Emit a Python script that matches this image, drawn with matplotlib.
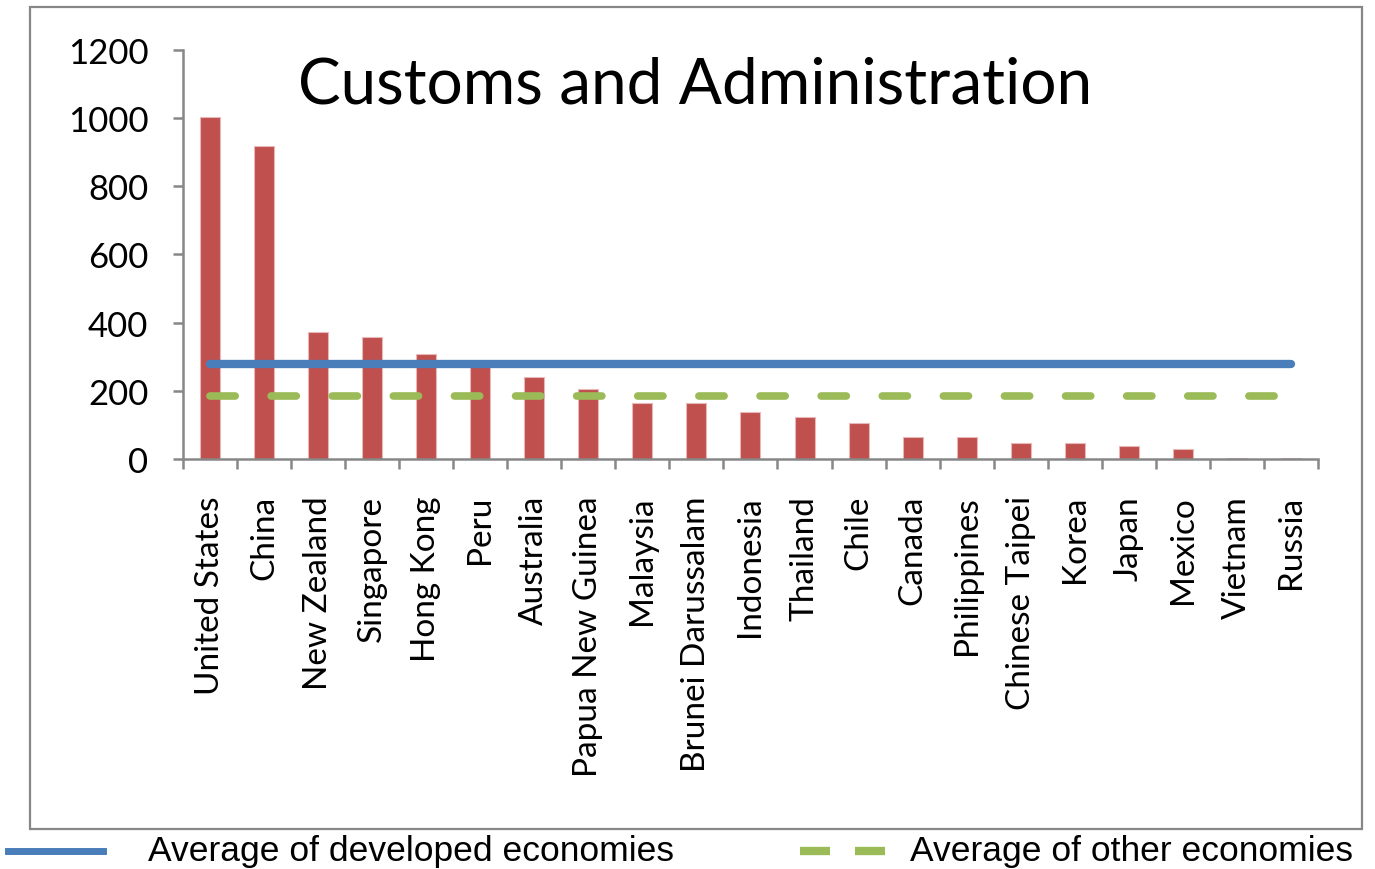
import matplotlib.pyplot as plt
import matplotlib.patches as patches
from matplotlib.lines import Line2D
import numpy as np

# data
economies = ["United States", "China", "New Zealand", "Singapore", "Hong Kong",
             "Peru", "Australia", "Papua New Guinea", "Malaysia",
             "Brunei Darussalam", "Indonesia", "Thailand", "Chile", "Canada",
             "Philippines", "Chinese Taipei", "Korea", "Japan", "Mexico",
             "Vietnam", "Russia"]
values = [1002, 918, 373, 357, 307, 275, 240, 205, 164, 164, 139, 122, 106,
          64, 64, 46, 46, 38, 29, 2, 2]
avg_developed = 279
avg_other = 185
yticks = [0, 200, 400, 600, 800, 1000, 1200]

bar_color = "#C0504D"
blue = "#4A7EBB"
green = "#9BBB59"
grey = "#878787"

fig = plt.figure(figsize=(13.75, 8.7), dpi=100)
ax = fig.add_axes([0.1331, 0.4713, 0.8254, 0.4701])

x = np.arange(len(economies))
ax.bar(x, values, width=0.37, color=bar_color, edgecolor="#E6B9B8", linewidth=0.8, zorder=2)

# average lines across the categories
ax.plot([x[0], x[-1]], [avg_developed] * 2, color=blue, lw=6, solid_capstyle="round", zorder=3)
ax.plot([x[0], x[-1]], [avg_other] * 2, color=green, lw=5.5, dash_capstyle="round",
        dashes=(3.3, 4.7), zorder=3)

ax.set_xlim(-0.5, len(economies) - 0.5)
ax.set_ylim(0, 1200)
ax.set_yticks(yticks)
ax.set_yticklabels([str(v) for v in yticks], fontsize=25, family="Lato")
ax.set_xticks(x)
ax.set_xticklabels(economies, rotation=90, fontsize=24, family="Lato")
ax.set_xticks(np.arange(-0.5, len(economies)), minor=True)
ax.tick_params(axis="x", which="major", length=0, pad=26)
ax.tick_params(axis="x", which="minor", length=7, width=1.8, color=grey, direction="out")
ax.tick_params(axis="y", length=7, width=1.8, color=grey, direction="out", pad=18)

for side in ["top", "right"]:
    ax.spines[side].set_visible(False)
for side in ["left", "bottom"]:
    ax.spines[side].set_color(grey)
    ax.spines[side].set_linewidth(1.8)

ax.text(0.451, 0.915, "Customs and Administration", transform=ax.transAxes,
        ha="center", va="center", fontsize=46, family="Lato")

# outer chart border
fig.patches.append(patches.Rectangle((0.0218, 0.046), 0.9687, 0.9448, transform=fig.transFigure,
                                     fill=False, edgecolor=grey, linewidth=1.6))

# legend below the border, drawn by hand
leg_y = 0.021
fig.add_artist(Line2D([0.006, 0.075], [leg_y, leg_y], transform=fig.transFigure,
                      color=blue, lw=5))
fig.add_artist(Line2D([0.582, 0.644], [leg_y, leg_y], transform=fig.transFigure,
                      color=green, lw=6, dashes=(3.6, 3.0), solid_capstyle="butt"))
fig.text(0.1076, leg_y, "Average of developed economies", ha="left", va="center",
         fontsize=25.5, family="Liberation Sans")
fig.text(0.6618, leg_y, "Average of other economies", ha="left", va="center",
         fontsize=25.5, family="Liberation Sans")

fig.savefig("out.png", dpi=100)
